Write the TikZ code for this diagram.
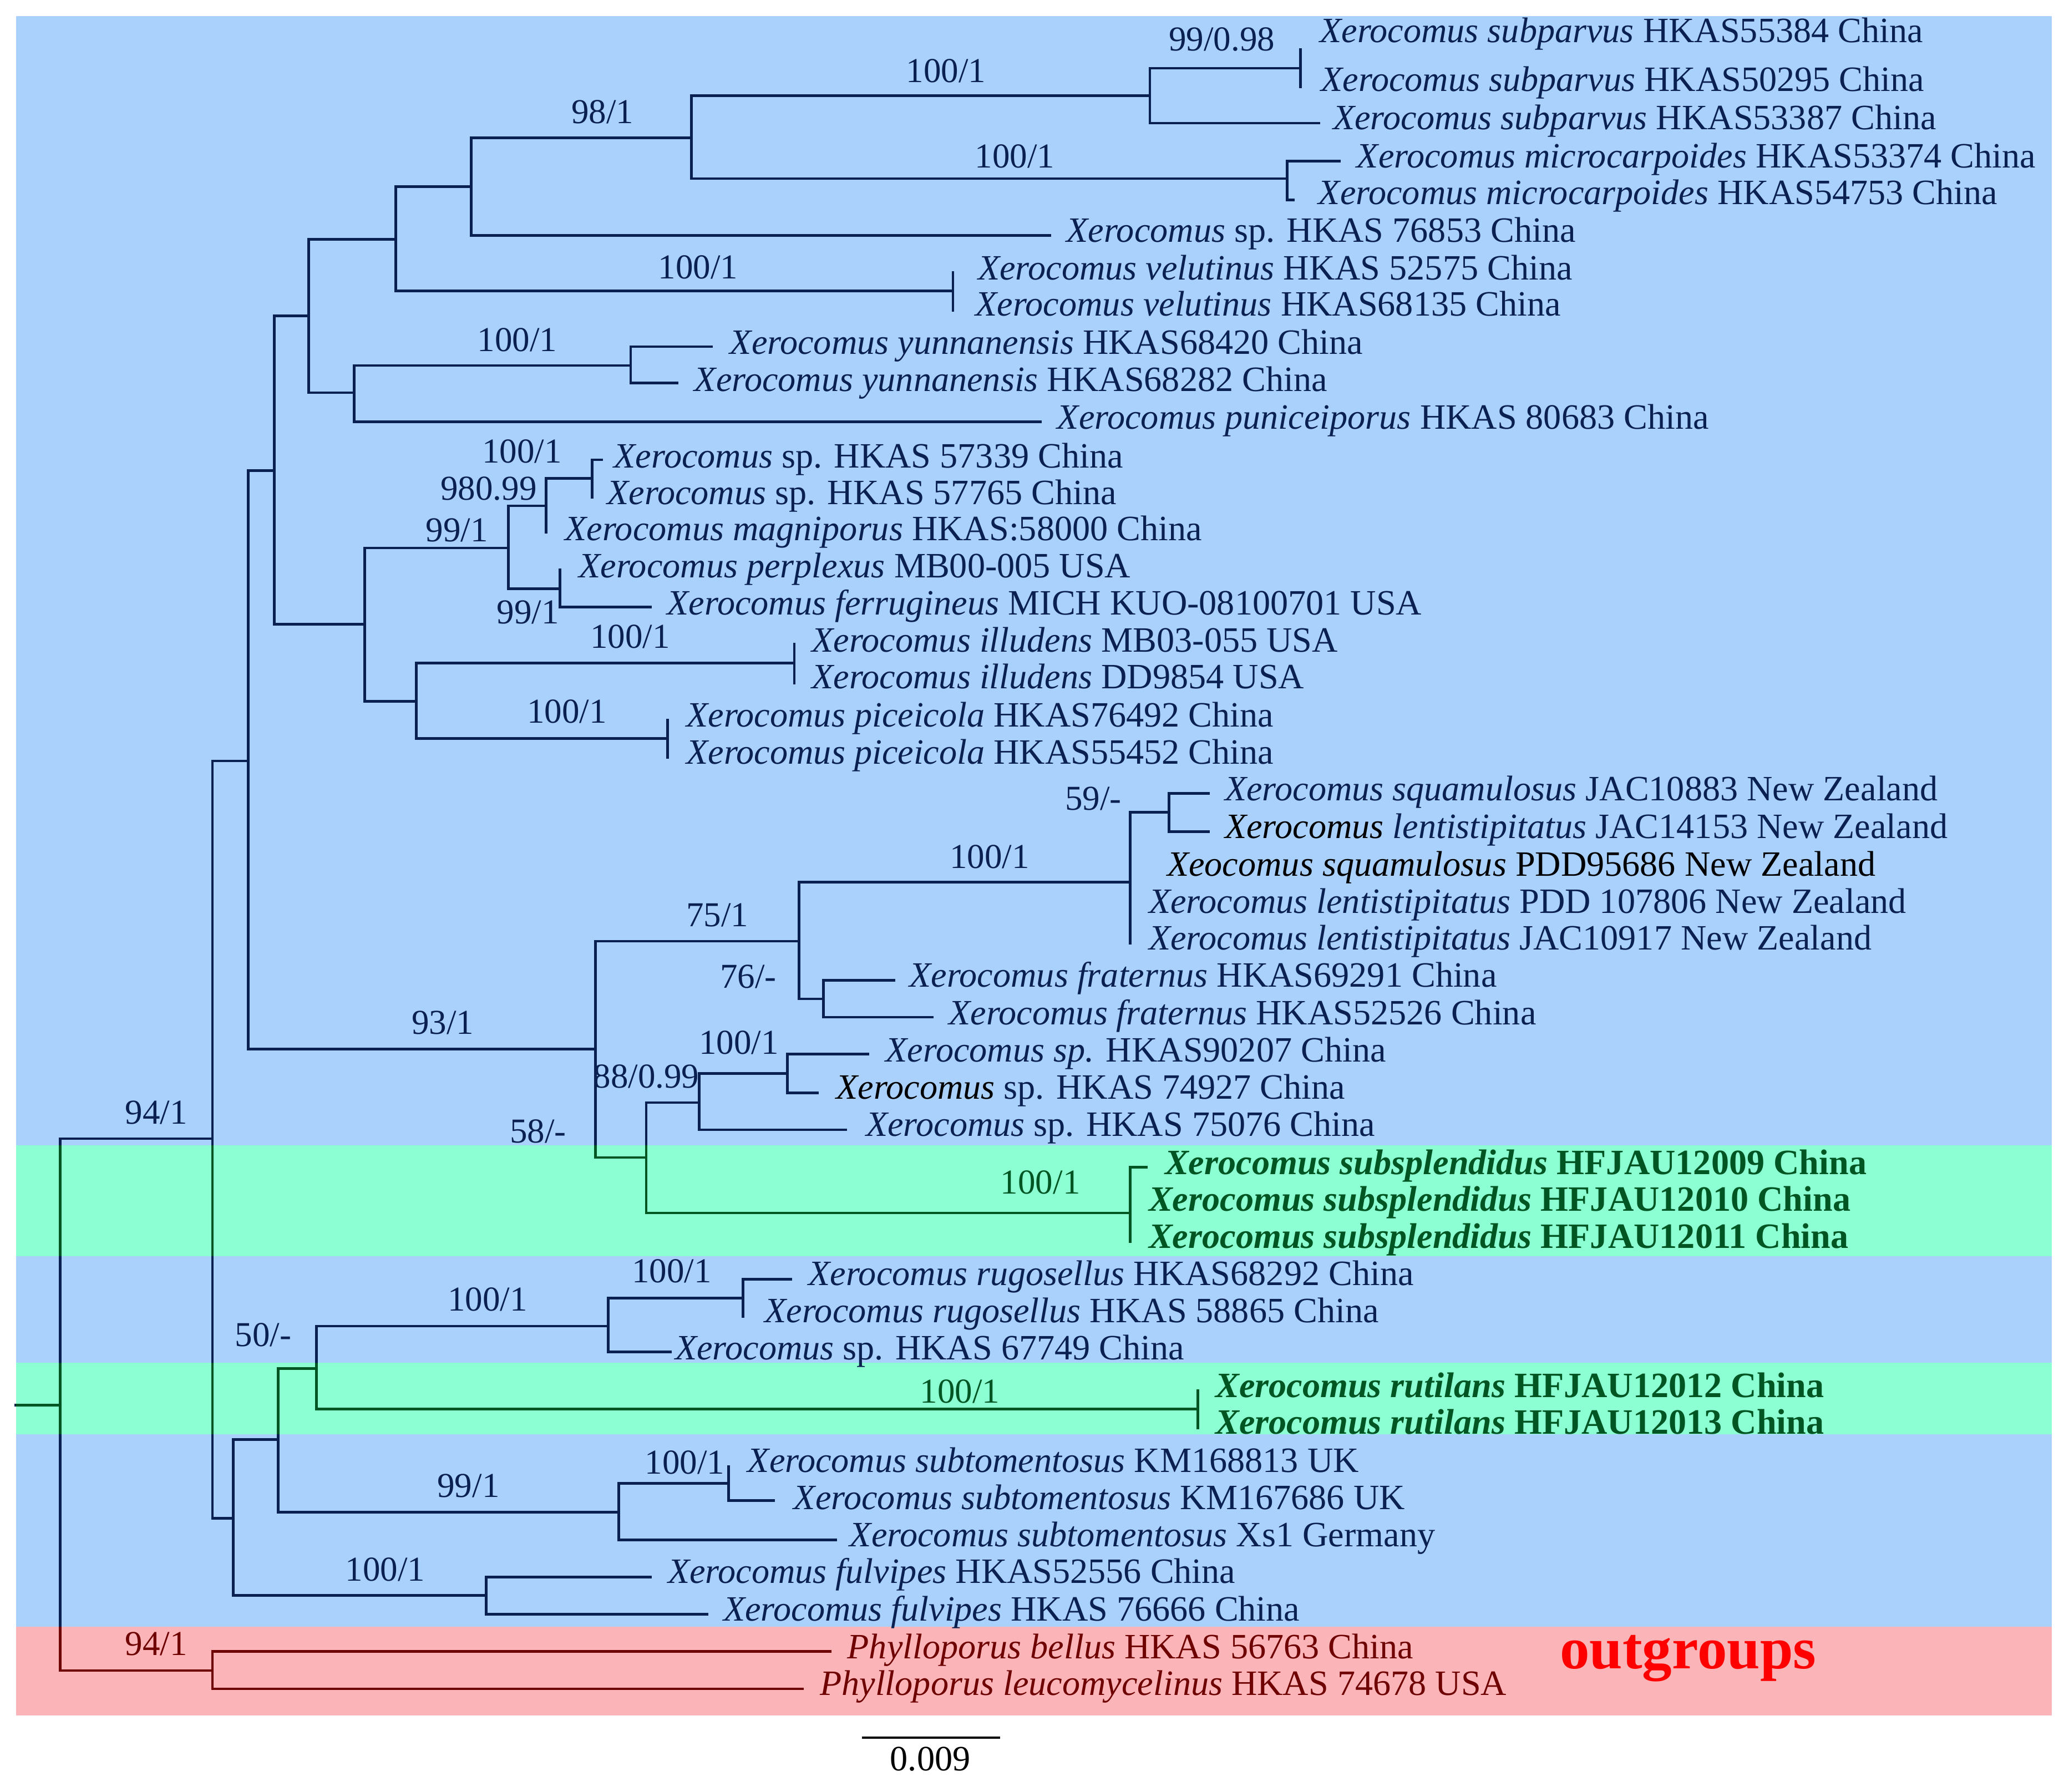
\documentclass[tikz,border=0pt]{standalone}
\usepackage{fontspec}
\setmainfont{Liberation Serif}
\definecolor{bandblue}{RGB}{170,209,251}
\definecolor{bandgreen}{RGB}{140,255,211}
\definecolor{bandpink}{RGB}{251,180,183}
\definecolor{treenavy}{RGB}{10,32,80}
\definecolor{treegreen}{RGB}{0,85,35}
\definecolor{treered}{RGB}{110,0,0}
\newcommand{\xer}[1]{\textit{Xerocomus #1}}
\newcommand{\drawtree}{%
  \foreach \p/\c in {rt/R,R/A,R/OG,A/B,A/C,B/D,B/E,D/F,D/G,F/H,F/I,H/J,H/K,J/L,J/t6,
    L/M,L/N,M/O,M/t3,O/t1,O/t2,N/t4,N/t5,K/t7,K/t8,I/P,I/t11,P/t9,P/t10,
    G/Q,G/S,Q/T,Q/U,T/V,T/t14,V/t12,V/t13,U/t15,U/t16,S/W,S/X,W/t17,W/t18,X/t19,X/t20,
    E/Y,E/Z,Y/AA,Y/AB,AA/AC,AA/t23,AA/t24,AA/t25,AC/t21,AC/t22,AB/t26,AB/t27,
    Z/AD,Z/AE,AD/AF,AD/t30,AF/t28,AF/t29,AE/t31,AE/t32,AE/t33,
    C/AG,C/AH,AG/AI,AG/AJ,AI/AK,AI/AL,AK/AM,AK/t36,AM/t34,AM/t35,AL/t37,AL/t38,
    AJ/AN,AJ/t41,AN/t39,AN/t40,AH/t42,AH/t43,OG/t44,OG/t45}
    {\draw[branch] (\p) |- (\c);}}
\tikzset{
  leaf/.style={anchor=west,inner sep=0pt,text height=18pt,text depth=0pt,
    font=\fontsize{27}{30}\selectfont,text=treenavy},
  newleaf/.style={leaf,text=treegreen,font=\fontsize{27}{30}\selectfont\bfseries},
  ogleaf/.style={leaf,text=treered},
  supp/.style={inner sep=0pt,text height=18pt,text depth=0pt,
    font=\fontsize{26.5}{30}\selectfont,text=treenavy},
  branch/.style={line width=2pt,line cap=rect},
}
\begin{document}
\begin{tikzpicture}[x=1pt,y=-1pt]
\useasboundingbox (0,0) rectangle (1568,1358);
% coloured bands
\fill[bandblue] (12,12) rectangle (1555,868);
\fill[bandgreen] (12,868) rectangle (1555,952);
\fill[bandblue] (12,952) rectangle (1555,1033);
\fill[bandgreen] (12,1033) rectangle (1555,1087);
\fill[bandblue] (12,1087) rectangle (1555,1233);
\fill[bandpink] (12,1233) rectangle (1555,1300);
% inner nodes
\coordinate (rt) at (12,1065);
\coordinate (R) at (45.7,1065);
\coordinate (A) at (161,863);
\coordinate (OG) at (161,1266.2);
\coordinate (B) at (188.2,576.7);
\coordinate (C) at (176.7,1150.7);
\coordinate (D) at (208,356.6);
\coordinate (E) at (451.4,795);
\coordinate (F) at (234,239.4);
\coordinate (G) at (276.4,473);
\coordinate (H) at (300,181.5);
\coordinate (I) at (268.4,297.6);
\coordinate (J) at (357,141.3);
\coordinate (K) at (722.2,220.6);
\coordinate (L) at (524,104.6);
\coordinate (M) at (871.4,72.4);
\coordinate (N) at (975.6,135.4);
\coordinate (O) at (985.4,51.7);
\coordinate (P) at (478,277);
\coordinate (Q) at (385.2,415.3);
\coordinate (S) at (315.4,531.6);
\coordinate (T) at (413.7,383.4);
\coordinate (U) at (424.5,446.1);
\coordinate (V) at (448.6,362.7);
\coordinate (W) at (602,502.4);
\coordinate (X) at (506,559.8);
\coordinate (Y) at (605.5,713.4);
\coordinate (Z) at (489.7,877.3);
\coordinate (AA) at (856.4,668.6);
\coordinate (AB) at (624,757.1);
\coordinate (AC) at (886,615.6);
\coordinate (AD) at (529.8,835.7);
\coordinate (AE) at (856.4,919.3);
\coordinate (AF) at (596.8,813.7);
\coordinate (AG) at (210.9,1091.2);
\coordinate (AH) at (368.4,1209.2);
\coordinate (AI) at (239.8,1037.3);
\coordinate (AJ) at (468.8,1146.2);
\coordinate (AK) at (460.8,1005.1);
\coordinate (AL) at (907.7,1068.1);
\coordinate (AM) at (563,984);
\coordinate (AN) at (552.2,1124.4);
% branch tips
\foreach \n/\x/\y in {1/985.4/37.5,2/985.4/65.7,3/999.3/93.3,4/1015/122,5/980/151.5,
  6/795.4/178.3,7/722.2/206.4,8/722.2/235.4,9/539.3/262.7,10/513/290.3,11/788.5/319.6,
  12/456/348.5,13/448.6/376.7,14/413.7/403.5,15/424.5/432,16/493/460,17/602/488.2,
  18/602/517.7,19/506/545.9,20/506/574,21/915.7/601.4,22/915.7/630.3,23/856.4/655,
  24/856.4/683,25/856.4/714.8,26/677.6/742.9,27/706.6/771,28/657.8/799,29/619.4/828.4,
  30/641/856.3,31/868.6/884.8,32/856.4/912,33/856.4/941,34/599.2/969.7,35/563/997.9,
  36/507.9/1024.7,37/907.7/1054.2,38/907.7/1082.3,39/552.2/1111.8,40/586.3/1137.3,
  41/633.4/1167,42/493/1195.2,43/535.7/1223.4,44/629/1251.8,45/608/1280}
  \coordinate (t\n) at (\x,\y);
% branches, recoloured inside the bands
\begin{scope}[color=treenavy]
\drawtree
\end{scope}
\begin{scope}[color=treegreen]
\clip (12,868) rectangle (1555,952) (12,1033) rectangle (1555,1087);
\drawtree
\end{scope}
\begin{scope}[color=treered]
\clip (12,1233) rectangle (1555,1300);
\drawtree
\end{scope}
% taxa
\node[leaf] (l1) at (1000,23) {\xer{subparvus} HKAS55384 China};
\node[leaf] (l2) at (1001,60) {\xer{subparvus} HKAS50295 China};
\node[leaf] (l3) at (1010,89) {\xer{subparvus} HKAS53387 China};
\node[leaf] (l4) at (1028,118) {\xer{microcarpoides} HKAS53374 China};
\node[leaf] (l5) at (999,146) {\xer{microcarpoides} HKAS54753 China};
\node[leaf] (l6) at (808,174.5) {\textit{Xerocomus} sp. HKAS 76853 China};
\node[leaf] (l7) at (741,203) {\xer{velutinus} HKAS 52575 China};
\node[leaf] (l8) at (739,230.5) {\xer{velutinus} HKAS68135 China};
\node[leaf] (l9) at (553,259.5) {\xer{yunnanensis} HKAS68420 China};
\node[leaf] (l10) at (526,287.5) {\xer{yunnanensis} HKAS68282 China};
\node[leaf] (l11) at (801,316) {\xer{puniceiporus} HKAS 80683 China};
\node[leaf] (l12) at (465,345.5) {\textit{Xerocomus} sp. HKAS 57339 China};
\node[leaf] (l13) at (460,373.5) {\textit{Xerocomus} sp. HKAS 57765 China};
\node[leaf] (l14) at (428,400.5) {\xer{magniporus} HKAS:58000 China};
\node[leaf] (l15) at (438.5,429) {\xer{perplexus} MB00-005 USA};
\node[leaf] (l16) at (505.4,457) {\xer{ferrugineus} MICH KUO-08100701 USA};
\node[leaf] (l17) at (615,485) {\xer{illudens} MB03-055 USA};
\node[leaf] (l18) at (615,513) {\xer{illudens} DD9854 USA};
\node[leaf] (l19) at (520,542) {\xer{piceicola} HKAS76492 China};
\node[leaf] (l20) at (520,570) {\xer{piceicola} HKAS55452 China};
\node[leaf] (l21) at (928,598) {\xer{squamulosus} JAC10883 New Zealand};
\node[leaf] (l22) at (928,626.5) {\textcolor{black}{\textit{Xerocomus}} \textit{lentistipitatus} JAC14153 New Zealand};
\node[leaf,text=black] (l23) at (884.3,655) {\textit{Xeocomus squamulosus} PDD95686 New Zealand};
\node[leaf] (l24) at (870.4,683) {\xer{lentistipitatus} PDD 107806 New Zealand};
\node[leaf] (l25) at (870.4,711) {\xer{lentistipitatus} JAC10917 New Zealand};
\node[leaf] (l26) at (689,739) {\xer{fraternus} HKAS69291 China};
\node[leaf] (l27) at (718.8,767.5) {\xer{fraternus} HKAS52526 China};
\node[leaf] (l28) at (671,796) {\textit{Xerocomus sp.} HKAS90207 China};
\node[leaf] (l29) at (633.4,824) {\textcolor{black}{\textit{Xerocomus}} sp. HKAS 74927 China};
\node[leaf] (l30) at (656,852) {\textit{Xerocomus} sp. HKAS 75076 China};
\node[newleaf] (l31) at (882.6,881) {\xer{subsplendidus} HFJAU12009 China};
\node[newleaf] (l32) at (870.4,909) {\xer{subsplendidus} HFJAU12010 China};
\node[newleaf] (l33) at (870.4,937) {\xer{subsplendidus} HFJAU12011 China};
\node[leaf] (l34) at (612.5,965) {\xer{rugosellus} HKAS68292 China};
\node[leaf] (l35) at (579.3,993.5) {\xer{rugosellus} HKAS 58865 China};
\node[leaf] (l36) at (511.4,1021.5) {\textit{Xerocomus} sp. HKAS 67749 China};
\node[newleaf] (l37) at (920.9,1050) {\xer{rutilans} HFJAU12012 China};
\node[newleaf] (l38) at (920.9,1078) {\xer{rutilans} HFJAU12013 China};
\node[leaf] (l39) at (566.4,1107) {\xer{subtomentosus} KM168813 UK};
\node[leaf] (l40) at (601.3,1135) {\xer{subtomentosus} KM167686 UK};
\node[leaf] (l41) at (643.8,1163) {\xer{subtomentosus} Xs1 Germany};
\node[leaf] (l42) at (506,1191) {\xer{fulvipes} HKAS52556 China};
\node[leaf] (l43) at (548,1219.5) {\xer{fulvipes} HKAS 76666 China};
\node[ogleaf] (l44) at (642,1248) {\textit{Phylloporus bellus} HKAS 56763 China};
\node[ogleaf] (l45) at (621.2,1276) {\textit{Phylloporus leucomycelinus} HKAS 74678 USA};
\node[anchor=base west,inner sep=0pt,text=red,font=\fontsize{45}{50}\selectfont\bfseries] (og) at (1182,1264.6) {outgroups};
% support values
\node[supp] (sO) at (926,29.5) {99/0.98};
\node[supp] (sM) at (717,53.6) {100/1};
\node[supp] (sL) at (456.6,84.4) {98/1};
\node[supp] (sN) at (769,118) {100/1};
\node[supp] (sK) at (529,202.4) {100/1};
\node[supp] (sP) at (392,257.4) {100/1};
\node[supp] (sV) at (395.6,341.8) {100/1};
\node[supp] (sT) at (370.3,370) {980.99};
\node[supp] (sQ) at (346.3,401.5) {99/1};
\node[supp] (sU) at (400,463.5) {99/1};
\node[supp] (sW) at (477.5,482) {100/1};
\node[supp] (sX) at (429.6,539) {100/1};
\node[supp] (sAC) at (828.5,604.9) {59/-};
\node[supp] (sAA) at (750,649) {100/1};
\node[supp] (sY) at (543.6,693.3) {75/1};
\node[supp] (sAB) at (567,740) {76/-};
\node[supp] (sE) at (335.5,774.7) {93/1};
\node[supp] (sAF) at (560,790) {100/1};
\node[supp] (sAD) at (489.7,815.6) {88/0.99};
\node[supp] (sA) at (118.5,843) {94/1};
\node[supp] (sZ) at (407.8,857) {58/-};
\node[supp,text=treegreen] (sAE) at (788.5,896) {100/1};
\node[supp] (sAM) at (509,963) {100/1};
\node[supp] (sAK) at (369.5,984.5) {100/1};
\node[supp] (sAI) at (199.4,1011.3) {50/-};
\node[supp,text=treegreen] (sAL) at (727.5,1054.2) {100/1};
\node[supp] (sAN) at (519,1108) {100/1};
\node[supp] (sAJ) at (355,1125.8) {99/1};
\node[supp] (sAH) at (291.9,1189.3) {100/1};
\node[supp,text=treered] (sOG) at (118.5,1245.6) {94/1};
% scale bar
\coordinate (sb1) at (653.2,1317);
\coordinate (sb2) at (758.1,1317);
\draw[line width=1.5pt] (sb1) -- (sb2);
\node[supp,text=black,font=\fontsize{27}{30}\selectfont] (sbl) at (705,1333) {0.009};
\end{tikzpicture}
\end{document}
